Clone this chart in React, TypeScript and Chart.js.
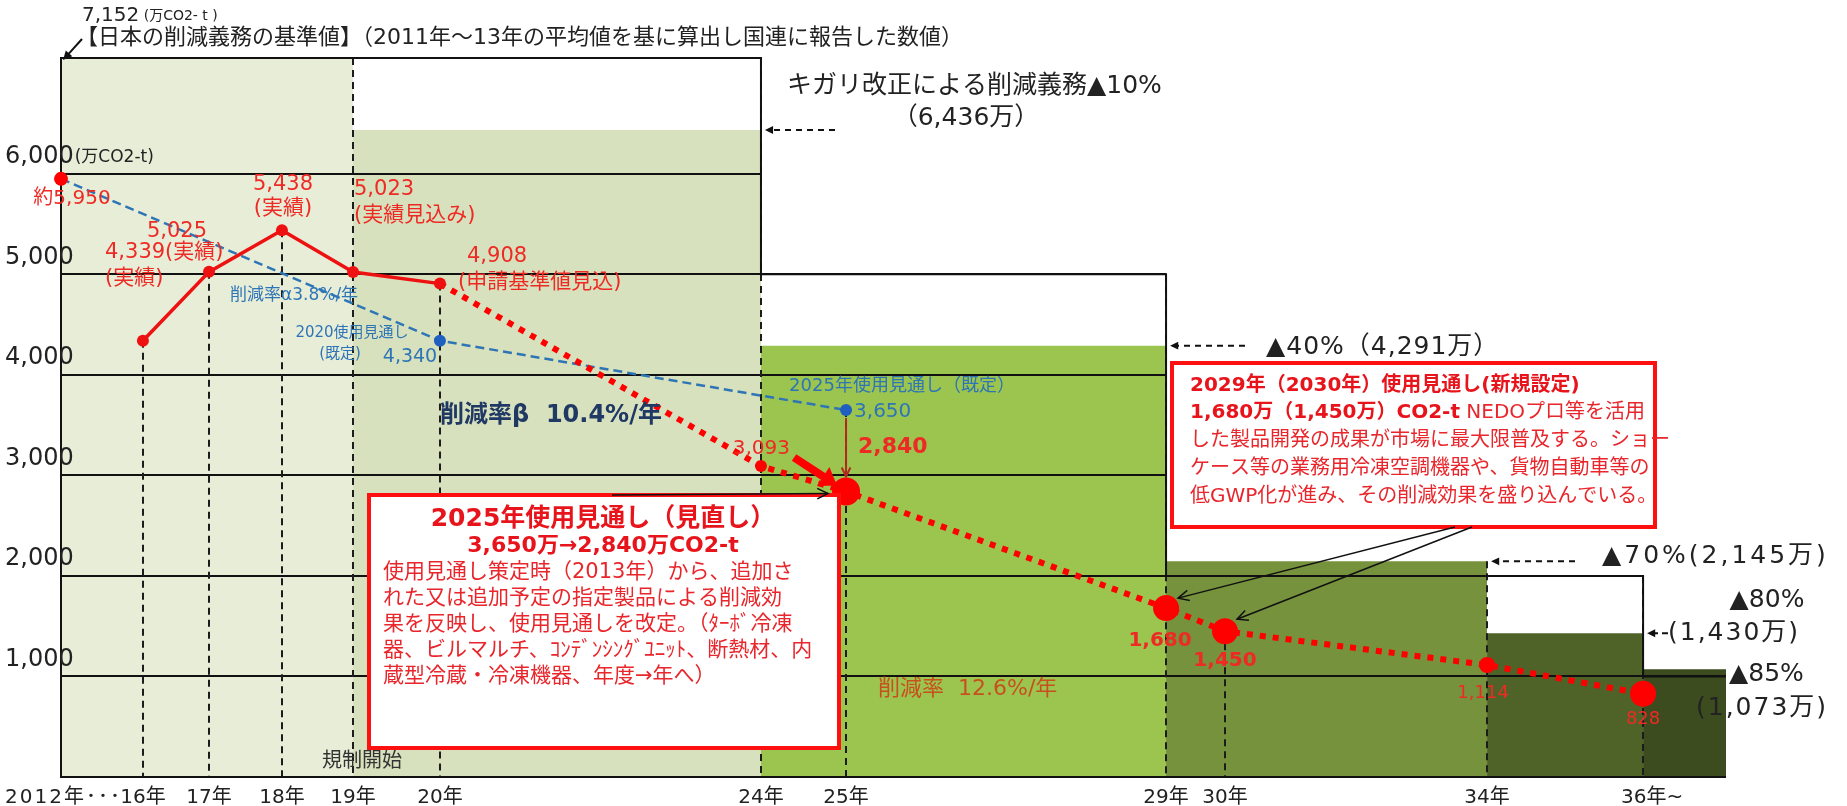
import React, { useEffect, useRef } from 'react';
import { Chart, registerables, LinearScale } from 'chart.js';

// ---------------- data ----------------
const X_TICK_YEARS = [2012, 2016, 2017, 2018, 2019, 2020, 2024, 2025, 2029, 2030, 2034, 2036];
const X_TICK_LABELS = ['2012年･･･', '16年', '17年', '18年', '19年', '20年', '24年', '25年', '29年', '30年', '34年', '36年~'];
const Y_TICKS = [1000, 2000, 3000, 4000, 5000, 6000];
const Y_TICK_LABELS = ['1,000', '2,000', '3,000', '4,000', '5,000', '6,000'];

const START_YEAR = 2012;
const END_YEAR = 2037;
const BASELINE = 7152; // 基準値 (万CO2-t)
const REGULATION_START = 2019;

const STEP_START = [2019, 2024, 2029, 2034, 2036];
const STEP_END = [2024, 2029, 2034, 2036, 2037];
const STEP_VALUES = [6436, 4291, 2145, 1430, 1073];
const STEP_CUTS = ['▲10%', '▲40%', '▲70%', '▲80%', '▲85%'];

const FRAME_START = [2012, 2024, 2029, 2036];
const FRAME_VALUES = [7152, 5000, 2000, 1000];

const ACTUAL_YEARS = [2016, 2017, 2018, 2019, 2020];
const ACTUAL_VALUES = [4339, 5025, 5438, 5023, 4908];

const BAU_YEARS = [2012, 2020, 2025];
const BAU_VALUES = [5950, 4340, 3650];

const PROJ_YEARS = [2020, 2024, 2025, 2029, 2030, 2034, 2036];
const PROJ_VALUES = [4908, 3093, 2840, 1680, 1450, 1114, 828];

// ---------------- styles ----------------
const BASE_COLOR = '#e8edd8';
const STEP_COLORS = ['#d8e1bd', '#9cc54f', '#77923c', '#4f6228', '#3d4c1f'];
const RED = '#ff0000';
const RED_TEXT = '#ee2a24';
const BLUE = '#2e75b6';
const FS = '"DejaVu Sans", "Noto Sans CJK JP", sans-serif';
const F = (size: number, bold = false) => `${bold ? 'bold ' : ''}${size}px ${FS}`;

// piecewise (broken) year axis: year -> fraction of the plot width
const X_KNOTS: [number, number][] = [
  [2012, 0], [2016, 0.0492], [2017, 0.0889], [2018, 0.1327], [2019, 0.1754], [2020, 0.2276],
  [2024, 0.4204], [2025, 0.4715], [2029, 0.6637], [2030, 0.6991], [2034, 0.8565], [2036, 0.9502], [2037, 1],
];
function interp(v: number, a: number, b: number) {
  const k = X_KNOTS;
  let i = 1;
  while (i < k.length - 1 && v > k[i][a]) i++;
  const p = k[i - 1], q = k[i];
  return p[b] + ((v - p[a]) / (q[a] - p[a])) * (q[b] - p[b]);
}
class BrokenYearScale extends LinearScale {
  static id = 'brokenYear';
  static defaults = {};
  getPixelForValue(value: number) {
    return this.getPixelForDecimal(interp(value, 0, 1));
  }
  getValueForPixel(pixel: number) {
    return interp(this.getDecimalForPixel(pixel), 1, 0);
  }
}
Chart.register(...registerables, BrokenYearScale as any);

// ---------------- helpers ----------------
function stepPoints(starts: number[], values: number[], end: number) {
  const pts: { x: number; y: number }[] = [];
  starts.forEach((s, i) => {
    const e = i + 1 < starts.length ? starts[i + 1] : end;
    pts.push({ x: s, y: values[i] }, { x: e, y: values[i] });
  });
  return pts;
}
function frameAt(v: number) {
  let val = FRAME_VALUES[0];
  FRAME_START.forEach((s, i) => { if (s <= v) val = FRAME_VALUES[i]; });
  return val;
}
function dropTop(yr: number) {
  const vals: number[] = [];
  [[ACTUAL_YEARS, ACTUAL_VALUES], [BAU_YEARS, BAU_VALUES], [PROJ_YEARS, PROJ_VALUES]].forEach(([ys, vs]) => {
    const i = (ys as number[]).indexOf(yr);
    if (i >= 0) vals.push((vs as number[])[i]);
  });
  let boundary = false;
  STEP_START.forEach((s, i) => { if (s === yr) { vals.push(STEP_VALUES[i]); boundary = true; } });
  STEP_END.forEach((s, i) => { if (s === yr) { vals.push(STEP_VALUES[i]); boundary = true; } });
  if (yr === REGULATION_START) vals.push(BASELINE);
  if (boundary) vals.push(frameAt(yr - 1e-6));
  return Math.max(...vals);
}

function text(ctx: any, s: string, x: number, y: number, font: string, color: string, align = 'left', spacing = 0) {
  ctx.font = font;
  ctx.fillStyle = color;
  ctx.textAlign = align;
  ctx.textBaseline = 'middle';
  ctx.letterSpacing = spacing + 'px';
  ctx.fillText(s, x, y);
  ctx.letterSpacing = '0px';
}
function runs(ctx: any, x: number, y: number, parts: [string, string, string][]) {
  let cx = x;
  ctx.textAlign = 'left';
  ctx.textBaseline = 'middle';
  for (const [s, font, color] of parts) {
    ctx.font = font;
    ctx.fillStyle = color;
    ctx.fillText(s, cx, y);
    cx += ctx.measureText(s).width;
  }
}
function arrow(ctx: any, x1: number, y1: number, x2: number, y2: number, o: any) {
  const head = o.head ?? 10;
  const a = Math.atan2(y2 - y1, x2 - x1);
  ctx.save();
  ctx.strokeStyle = o.color;
  ctx.fillStyle = o.color;
  ctx.lineWidth = o.width ?? 1.5;
  if (o.dash) ctx.setLineDash(o.dash);
  ctx.beginPath();
  ctx.moveTo(x1, y1);
  const back = o.filled ? head * 0.7 : 0;
  ctx.lineTo(x2 - Math.cos(a) * back, y2 - Math.sin(a) * back);
  ctx.stroke();
  ctx.setLineDash([]);
  const sp = o.spread ?? 0.45;
  ctx.beginPath();
  if (o.filled) {
    ctx.moveTo(x2, y2);
    ctx.lineTo(x2 - head * Math.cos(a - sp), y2 - head * Math.sin(a - sp));
    ctx.lineTo(x2 - head * Math.cos(a + sp), y2 - head * Math.sin(a + sp));
    ctx.closePath();
    ctx.fill();
  } else {
    ctx.moveTo(x2 - head * Math.cos(a - sp), y2 - head * Math.sin(a - sp));
    ctx.lineTo(x2, y2);
    ctx.lineTo(x2 - head * Math.cos(a + sp), y2 - head * Math.sin(a + sp));
    ctx.stroke();
  }
  ctx.restore();
}

// ---------------- plugin: grid lines, drop lines, labels ----------------
const drawPlugin = {
  id: 'drawings',
  afterDatasetDraw(chart: any, args: any) {
    const ds = chart.data.datasets[args.index];
    if (!ds.gridAfter) return;
    const ctx = chart.ctx;
    const X = (v: number) => chart.scales.x.getPixelForValue(v);
    const Y = (v: number) => chart.scales.y.getPixelForValue(v);
    ctx.save();
    ctx.strokeStyle = '#111';
    ctx.lineWidth = 2;
    for (const level of Y_TICKS) {
      let endYear = FRAME_START[0];
      for (let i = 0; i < FRAME_START.length; i++) {
        if (FRAME_VALUES[i] >= level) endYear = i + 1 < FRAME_START.length ? FRAME_START[i + 1] : END_YEAR;
        else break;
      }
      const y = Math.round(Y(level));
      ctx.beginPath();
      ctx.moveTo(X(START_YEAR), y);
      ctx.lineTo(X(endYear), y);
      ctx.stroke();
    }
    ctx.setLineDash([7, 5]);
    ctx.strokeStyle = '#1c1c1c';
    for (const yr of X_TICK_YEARS.slice(1)) {
      const x = Math.round(X(yr));
      ctx.beginPath();
      ctx.moveTo(x, Y(dropTop(yr)));
      ctx.lineTo(x, Y(0));
      ctx.stroke();
    }
    ctx.restore();
  },
  afterDatasetsDraw(chart: any) {
    const ctx = chart.ctx;
    const X = (v: number) => chart.scales.x.getPixelForValue(v);
    const Y = (v: number) => chart.scales.y.getPixelForValue(v);
    ctx.save();

    // y labels
    Y_TICKS.forEach((v, i) => text(ctx, Y_TICK_LABELS[i], 5, Y(v) - 17, F(24), '#222'));
    ctx.font = F(24);
    text(ctx, '(万CO2-t)', 5 + ctx.measureText('6,000').width + 1, Y(6000) - 16, F(17), '#222');

    // x labels
    X_TICK_YEARS.forEach((yr, i) => {
      if (i === 0) text(ctx, X_TICK_LABELS[i], X(X_TICK_YEARS[1]) - 21, 798, F(20), '#222', 'right', 2);
      else if (i === X_TICK_YEARS.length - 1) text(ctx, X_TICK_LABELS[i], X(yr) - 22, 798, F(20), '#222', 'left');
      else text(ctx, X_TICK_LABELS[i], X(yr), 798, F(20), '#222', 'center');
    });

    // baseline header
    runs(ctx, 82, 16, [['7,152', F(20), '#222'], [' (万CO2- t )', F(14), '#222']]);
    text(ctx, '【日本の削減義務の基準値】（2011年～13年の平均値を基に算出し国連に報告した数値）', 76, 38, F(22), '#222');
    arrow(ctx, 82, 39, X(START_YEAR) + 2, Y(BASELINE) + 2, { color: '#111', width: 2, head: 10, filled: true });

    // step labels
    text(ctx, 'キガリ改正による削減義務' + STEP_CUTS[0], 787, 86, F(25), '#222');
    text(ctx, '（6,436万）', 966, 118, F(25), '#222', 'center');
    arrow(ctx, 835, Y(STEP_VALUES[0]), X(STEP_END[0]) + 4, Y(STEP_VALUES[0]), { color: '#111', width: 2, dash: [6, 5], head: 9, filled: true });

    text(ctx, STEP_CUTS[1] + '（4,291万）', 1266, Y(STEP_VALUES[1]) + 2, F(25), '#222', 'left', 1);
    arrow(ctx, 1245, Y(STEP_VALUES[1]), X(STEP_END[1]) + 4, Y(STEP_VALUES[1]), { color: '#111', width: 2, dash: [6, 5], head: 9, filled: true });

    text(ctx, STEP_CUTS[2] + '(2,145万)', 1602, Y(STEP_VALUES[2]) - 5, F(25), '#222', 'left', 3);
    arrow(ctx, 1575, Y(STEP_VALUES[2]), X(STEP_END[2]) + 4, Y(STEP_VALUES[2]), { color: '#111', width: 2, dash: [6, 5], head: 9, filled: true });

    text(ctx, STEP_CUTS[3], 1767, 600, F(25), '#222', 'center');
    text(ctx, '(1,430万)', 1668, Y(STEP_VALUES[3]), F(25), '#222', 'left', 2);
    arrow(ctx, 1668, Y(STEP_VALUES[3]), X(STEP_END[3]) + 4, Y(STEP_VALUES[3]), { color: '#111', width: 2, dash: [6, 4], head: 9, filled: true });

    text(ctx, STEP_CUTS[4], 1729, 674, F(25), '#222');
    text(ctx, '(1,073万)', 1696, 708, F(25), '#222', 'left', 2);

    // red value labels (actuals)
    text(ctx, '約5,950', X(2012) + 11, Y(5950) + 20, F(20), RED_TEXT, 'center');
    runs(ctx, 105, 253, [['4,339', F(21), RED_TEXT], ['(実績)', F(21), RED_TEXT]]);
    text(ctx, '(実績)', 105, 279, F(21), RED_TEXT);
    text(ctx, '5,025', 177, 232, F(21), RED_TEXT, 'center');
    text(ctx, '5,438', 283, 185, F(21), RED_TEXT, 'center');
    text(ctx, '(実績)', 283, 209, F(21), RED_TEXT, 'center');
    text(ctx, '5,023', 354, 190, F(21), RED_TEXT);
    text(ctx, '(実績見込み)', 354, 216, F(21), RED_TEXT);
    text(ctx, '4,908', 467, 257, F(21), RED_TEXT);
    text(ctx, '(申請基準値見込)', 458, 283, F(21), RED_TEXT);

    // blue labels
    text(ctx, '削減率α3.8%/年', 230, 296, F(17), BLUE);
    text(ctx, '2020使用見通し', 352, 333, F(15), BLUE, 'center');
    text(ctx, '(既定)', 340, 354, F(15), BLUE, 'center');
    text(ctx, '4,340', 410, 357, F(19), BLUE, 'center');
    text(ctx, '2025年使用見通し（既定）', 902, 386, F(18), BLUE, 'center');
    text(ctx, '3,650', X(2025) + 8, Y(3650) + 2, F(20), BLUE);

    text(ctx, '削減率β  10.4%/年', 440, 416, F(24, true), '#1f3864');
    text(ctx, '削減率  12.6%/年', 878, 689, F(22), '#c8501e');
    text(ctx, '規制開始', 362, 762, F(20), '#333', 'center');

    // projection labels
    text(ctx, '3,093', 790, 449, F(20), RED_TEXT, 'right');
    text(ctx, '2,840', X(2025) + 12, 447, F(22, true), RED_TEXT);
    text(ctx, '1,680', X(2029) - 6, Y(1680) + 33, F(20, true), RED_TEXT, 'center');
    text(ctx, '1,450', X(2030), Y(1450) + 30, F(20, true), RED_TEXT, 'center');
    text(ctx, '1,114', X(2034) - 4, Y(1114) + 28, F(18), RED_TEXT, 'center');
    text(ctx, '828', X(2036), Y(828) + 26, F(18), RED_TEXT, 'center');

    // arrows into the 2025 point
    const p25x = X(2025), p25y = Y(2840);
    arrow(ctx, p25x, Y(3650) + 8, p25x, p25y - 15, { color: '#b02a20', width: 2, head: 10, filled: false });
    arrow(ctx, p25x - 52, p25y - 34, p25x - 9, p25y - 6, { color: RED, width: 8, head: 20, filled: true, spread: 0.6 });

    // box 1
    ctx.fillStyle = '#fff';
    ctx.fillRect(369, 495, 470, 253);
    ctx.strokeStyle = '#ff1010';
    ctx.lineWidth = 4;
    ctx.strokeRect(369, 495, 470, 253);
    text(ctx, '2025年使用見通し（見直し）', 603, 519, F(25, true), '#e8141c', 'center');
    text(ctx, '3,650万→2,840万CO2-t', 603, 546, F(22, true), '#e8141c', 'center');
    const b1 = [
      '使用見通し策定時（2013年）から、追加さ',
      'れた又は追加予定の指定製品による削減効',
      '果を反映し、使用見通しを改定。（ﾀｰﾎﾞ冷凍',
      '器、ビルマルチ、ｺﾝﾃﾞﾝｼﾝｸﾞﾕﾆｯﾄ、断熱材、内',
      '蔵型冷蔵・冷凍機器、年度→年へ）',
    ];
    b1.forEach((s, i) => text(ctx, s, 383, 573 + i * 26, F(21), '#e8262b'));
    arrow(ctx, 612, 495, p25x - 18, p25y + 2, { color: '#111', width: 1.5, head: 12, filled: false });

    // box 2
    ctx.fillStyle = '#fff';
    ctx.fillRect(1172, 363, 483, 164);
    ctx.strokeStyle = '#ff1010';
    ctx.lineWidth = 4;
    ctx.strokeRect(1172, 363, 483, 164);
    text(ctx, '2029年（2030年）使用見通し(新規設定)', 1190, 386, F(20, true), '#e8141c');
    runs(ctx, 1190, 413, [['1,680万（1,450万）CO2-t', F(20, true), '#e8141c'], [' NEDOプロ等を活用', F(20), '#e8262b']]);
    const b2 = [
      'した製品開発の成果が市場に最大限普及する。ショー',
      'ケース等の業務用冷凍空調機器や、貨物自動車等の',
      '低GWP化が進み、その削減効果を盛り込んでいる。',
    ];
    b2.forEach((s, i) => text(ctx, s, 1190, 441 + i * 28, F(20), '#e8262b'));
    arrow(ctx, 1455, 527, X(2029) + 12, Y(1680) - 10, { color: '#111', width: 1.5, head: 12, filled: false });
    arrow(ctx, 1472, 527, X(2030) + 12, Y(1450) - 12, { color: '#111', width: 1.5, head: 12, filled: false });

    ctx.restore();
  },
};

// ---------------- component ----------------
export default function App() {
  const ref = useRef<HTMLCanvasElement>(null);
  useEffect(() => {
    document.body.style.margin = '0';
    document.body.style.overflow = 'hidden';
    const fillDs = (data: any[], color: string, order: number, extra: any = {}) => ({
      type: 'line', data, fill: 'origin', backgroundColor: color, borderColor: 'transparent',
      borderWidth: 0, pointRadius: 0, order, clip: false, ...extra,
    });
    const framePts = stepPoints(FRAME_START, FRAME_VALUES, END_YEAR);
    const datasets: any[] = [
      fillDs(framePts, '#ffffff', 30),
      fillDs([{ x: START_YEAR, y: BASELINE }, { x: REGULATION_START, y: BASELINE }], BASE_COLOR, 29),
      ...STEP_START.map((s, i) =>
        fillDs([{ x: s, y: STEP_VALUES[i] }, { x: STEP_END[i], y: STEP_VALUES[i] }], STEP_COLORS[i], 28 - i,
          i === STEP_START.length - 1 ? { gridAfter: true } : {})),
      {
        type: 'line', data: [{ x: END_YEAR, y: 0 }, { x: START_YEAR, y: 0 }, ...framePts],
        fill: false, borderColor: '#111', borderWidth: 2, pointRadius: 0, order: 10, clip: false,
      },
      {
        type: 'line', label: 'BAU', data: BAU_YEARS.map((x, i) => ({ x, y: BAU_VALUES[i] })),
        borderColor: BLUE, borderWidth: 2.5, borderDash: [9, 5], fill: false, order: 3, clip: false,
        pointRadius: [7, 6, 6], pointBackgroundColor: [RED, '#1f5fbf', '#1f5fbf'],
        pointBorderColor: [RED, '#1f5fbf', '#1f5fbf'], pointBorderWidth: 0,
      },
      {
        type: 'line', label: 'projection', data: PROJ_YEARS.map((x, i) => ({ x, y: PROJ_VALUES[i] })),
        borderColor: RED, borderWidth: 6, borderDash: [6, 7], fill: false, order: 2, clip: false,
        pointRadius: [0, 6, 14, 13, 13, 8, 13], pointBackgroundColor: RED, pointBorderColor: RED, pointBorderWidth: 0,
      },
      {
        type: 'line', label: 'actual', data: ACTUAL_YEARS.map((x, i) => ({ x, y: ACTUAL_VALUES[i] })),
        borderColor: '#ee1111', borderWidth: 3.5, fill: false, order: 1, clip: false,
        pointRadius: 6, pointBackgroundColor: '#ee1111', pointBorderColor: '#ee1111', pointBorderWidth: 0,
      },
    ];
    const chart = new Chart(ref.current as HTMLCanvasElement, {
      type: 'line',
      data: { datasets },
      options: {
        animation: false,
        responsive: false,
        events: [],
        layout: { padding: { left: 61, right: 121, top: 6, bottom: 29 } },
        plugins: { legend: { display: false }, tooltip: { enabled: false } },
        elements: { line: { tension: 0 } },
        scales: {
          x: { type: 'brokenYear', min: START_YEAR, max: END_YEAR, display: false },
          y: { type: 'linear', min: 0, max: 7600, display: false },
        },
      } as any,
      plugins: [drawPlugin as any],
    } as any);
    return () => chart.destroy();
  }, []);
  return (
    <div style={{ width: 1847, height: 806, background: '#fff' }}>
      <canvas ref={ref} width={1847} height={806} style={{ display: 'block', width: 1847, height: 806 }} />
    </div>
  );
}
